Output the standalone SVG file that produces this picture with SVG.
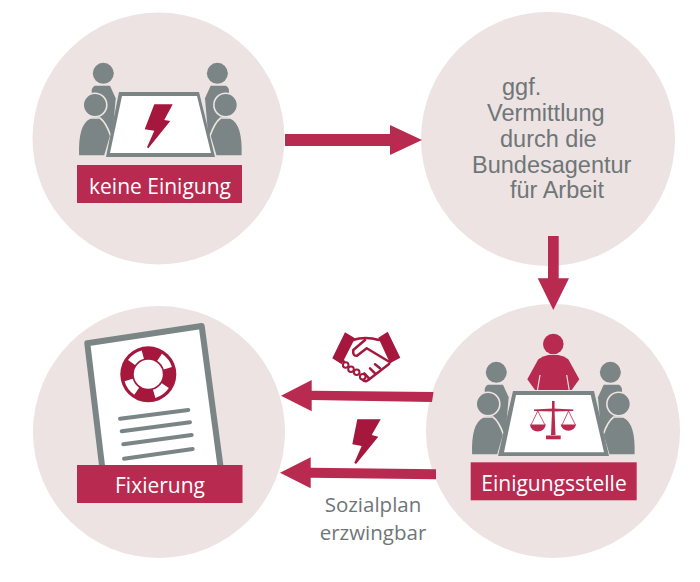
<svg xmlns="http://www.w3.org/2000/svg" xmlns:xlink="http://www.w3.org/1999/xlink" width="700" height="582" viewBox="0 0 700 582">
<style>
.disc{fill:#ede3e3}
.band{fill:#b92a50}
.lab{font-family:"Open Sans","Liberation Sans",sans-serif;font-size:21px;fill:#fff;text-anchor:middle}
.tx{font-family:"Liberation Sans",Arial,sans-serif;font-size:23.5px;fill:#6f7678}
.cap{font-family:"Open Sans","Liberation Sans",sans-serif;font-size:20.500px;fill:#6f7678;text-anchor:middle}
.arrow{fill:#b92a50}
.bolt{fill:#a5173c}
.gr{fill:#7b8585}
.ln{stroke:#7b8585;stroke-width:4;stroke-linecap:round;fill:none}
.hs{fill:none;stroke:#a5173c;stroke-width:2.500;stroke-linejoin:round;stroke-linecap:round}
</style>
<defs>
<g id="pair">
<circle class="gr" cx="103.300" cy="73.300" r="10.500"/>
<path class="gr" d="M91.700 90Q93 86 95 85.700H110L115.700 98.300 112 140H93Z"/>
<path class="gr" d="M78.300 156C77.500 135 81 122 90 118H100C104 121 108 128 110.700 136L104.800 156Z" stroke="#ede3e3" stroke-width="1.600"/>
<circle class="gr" cx="95" cy="105" r="11.800" stroke="#ede3e3" stroke-width="1.600"/>
</g>
</defs>
<rect width="700" height="582" fill="#fff"/>
<g id="node-keine-einigung">
<circle class="disc" cx="158.500" cy="138.500" r="126"/>
<use xlink:href="#pair" href="#pair"/>
<use xlink:href="#pair" href="#pair" transform="translate(320.670 0) scale(-1 1)"/>
<path class="gr" d="M119 92H199L215 157H106Z"/>
<path fill="#fff" d="M122 96H197L211 153H110Z"/>
<path class="bolt" d="M154.300 104.300H172.700L164.300 120 170.300 121 148.300 148.300 147 147.300 154.300 130.700 144.700 129.300Z"/>
<rect class="band" x="77" y="165" width="165" height="38"/>
<text class="lab" x="160" y="193.500">keine Einigung</text>
</g>
<g id="node-vermittlung">
<circle class="disc" cx="548" cy="139" r="127"/>
<text class="tx" x="502" y="95">ggf.</text>
<text class="tx" x="487" y="121">Vermittlung</text>
<text class="tx" x="500" y="147">durch die</text>
<text class="tx" x="472" y="173">Bundesagentur</text>
<text class="tx" x="510" y="198">für Arbeit</text>
</g>
<g id="node-einigungsstelle">
<circle class="disc" cx="553" cy="431" r="127"/>
<use xlink:href="#pair" href="#pair" transform="translate(393 299)"/>
<use xlink:href="#pair" href="#pair" transform="translate(713.670 299) scale(-1 1)"/>
<circle class="band" cx="553.300" cy="344" r="10.300"/>
<path class="band" d="M527.300 379.300L538.300 359.300Q543 356 548.300 355H558.300Q564 356 568.300 359.300L579.300 379.300 571.700 390H535Z"/>
<path d="M540 375L537.500 390M566.700 375L569.200 390" stroke="#ede3e3" stroke-width="1.200" fill="none"/>
<path class="gr" d="M513 391H594L609 456H498Z"/>
<path fill="#fff" d="M516 395H590.700L604 452.300H504Z"/>
<g fill="#b92a50">
<path d="M552 401H554.600V412L555.500 435H551L552 412Z"/>
<path d="M534 409.500L553 408.500 573.300 409.500V411L553 411.500 534 411Z"/>
<path d="M546 439.300H560.700V435.500H546Z"/>
<path d="M530 424.500H545.700A7.800 7 0 0 1 530 424.500ZM560.700 424.500H576A7.700 7 0 0 1 560.700 424.500Z"/>
</g>
<path d="M537.800 411L531 425M537.800 411L545 425M568.500 411L562 425M568.500 411L575.500 425" stroke="#b92a50" stroke-width=".8" fill="none"/>
<rect class="band" x="470.700" y="462.300" width="166" height="38"/>
<text class="lab" x="554" y="490.500">Einigungsstelle</text>
</g>
<g id="node-fixierung">
<circle class="disc" cx="159" cy="432" r="126"/>
<path d="M87.300 343.300L201.700 326 220.700 468H102.300Z" fill="#fff" stroke="#7b8585" stroke-width="6" stroke-linejoin="round"/>
<circle class="bolt" cx="148.300" cy="374.300" r="28"/>
<circle cx="148.300" cy="374.300" r="20.500" fill="none" stroke="#fff" stroke-width="8.500" stroke-dasharray="14 18.200" transform="rotate(-56.600 148.300 374.300)"/>
<circle cx="148.300" cy="374.300" r="14.500" fill="#fff"/>
<path class="ln" d="M120 418.700L188.300 410M121.700 431.300L190 422.300M123.300 444.300L191.700 435M124 458.700L192.700 449"/>
<rect class="band" x="77" y="465" width="165.500" height="38"/>
<text class="lab" x="160" y="493">Fixierung</text>
</g>
<g id="connectors">
<path class="arrow" d="M285 134H390V125L422 140 390 155V146H285Z"/>
<path class="arrow" d="M548 236H558.700V278.300H569L553.300 310 537.700 278.300H548Z"/>
<path class="arrow" d="M433.500 392L432 402 311.700 400V411.300L281 395.700 311.700 380V390.700Z"/>
<path class="arrow" d="M436 469.300V479.300L310.700 477.700V488.300L280 472.700 310.700 457.300V467.700Z"/>
</g>
<g id="handshake">
<path class="bolt" d="M332.300 358.300L345 332.300 355 338.300 341.700 364.300ZM378.300 337.700L387.700 331.700 400.300 357.700 390 363.300Z"/>
<path class="hs" d="M353 340Q365 336 379 340"/>
<path class="hs" d="M365 340L353.300 350Q352.500 356.500 357 355.700L366.700 348.300 390 362.300"/>
<path class="hs" d="M389 364L368.300 380Q365 382.500 362.700 380"/>
<path class="hs" d="M342 359L344 362"/>
<path class="hs" d="M380 368.300L375 364.300M375 373.300L370 368.300M369 378.300L364.300 373.300"/>
<g fill="#fff" stroke="#a5173c" stroke-width="2">
<circle cx="345.700" cy="365" r="2.800"/><circle cx="351" cy="369.300" r="2.800"/><circle cx="356.700" cy="372.300" r="2.800"/><circle cx="362.700" cy="376.700" r="2.800"/>
</g>
</g>
<path id="bolt-2" class="bolt" d="M357.300 419.300H380.700L371.700 435 378.300 436.700 356 464 354.300 462.700 361.700 446 352.300 444.300Z"/>
<g id="caption">
<text class="cap" x="373" y="512">Sozialplan</text>
<text class="cap" x="373" y="540">erzwingbar</text>
</g>
</svg>
